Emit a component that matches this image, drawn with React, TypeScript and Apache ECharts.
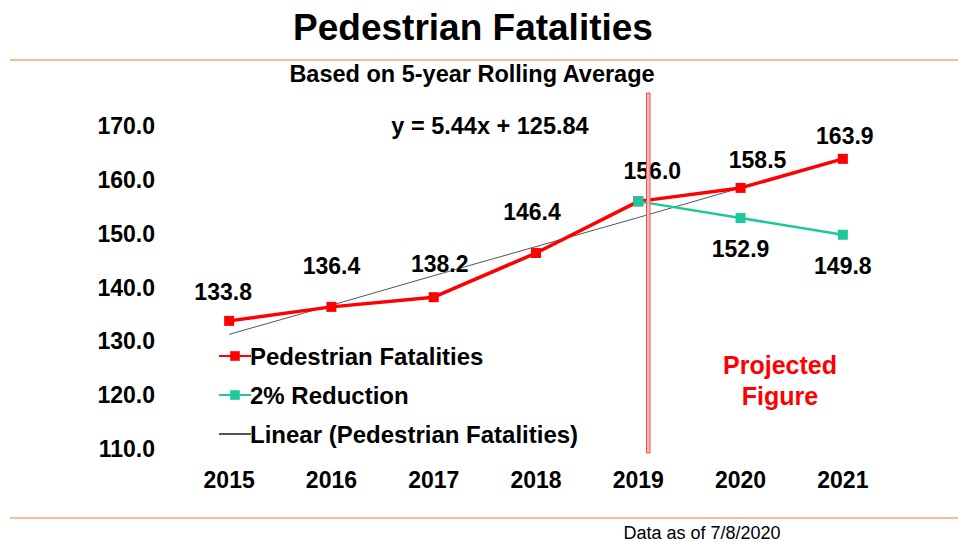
import React, { useEffect, useRef } from "react";
import * as echarts from "echarts";

const years = ["2015", "2016", "2017", "2018", "2019", "2020", "2021"];
const pedestrian = [133.8, 136.4, 138.2, 146.4, 156.0, 158.5, 163.9];
const reduction = [null, null, null, null, 156.0, 152.9, 149.8];
const linearTrend = [131.3, 136.7, 142.2, 147.6, 153.0, 158.5, 163.9];
const equationText = "y = 5.44x + 125.84";

const FONT = "'Liberation Sans', Arial, Helvetica, sans-serif";

export default function App() {
  const ref = useRef<HTMLDivElement>(null);
  useEffect(() => {
    if (!ref.current) return;
    const chart = echarts.init(ref.current, null, { renderer: "svg" });
    const redLabelOffsets = [[-6, -6], [0, -18], [6, -11], [-4, -19], [14, -8], [17, -5], [2, 0]];
    const greenLabelOffsets = [[0, 0], [0, 0], [0, 0], [0, 0], [0, 0], [0, 10], [0, 11]];
    const labelStyle = { fontFamily: FONT, fontWeight: "bold" as const, fontSize: 23, color: "#000" };
    chart.setOption({
      animation: false,
      backgroundColor: "#fff",
      grid: { left: 178, right: 64, top: 126, bottom: 93, containLabel: false },
      legend: {
        orient: "vertical",
        left: 213,
        top: 339,
        itemGap: 15,
        itemWidth: 32,
        itemHeight: 12,
        textStyle: { fontFamily: FONT, fontWeight: "bold", fontSize: 24, color: "#000", padding: [0, 0, 0, -6] },
        data: [
          "Pedestrian Fatalities",
          "2% Reduction",
          { name: "Linear (Pedestrian Fatalities)", itemStyle: { opacity: 0 } },
        ],
      },
      xAxis: {
        type: "category",
        data: years,
        boundaryGap: true,
        axisLine: { show: false },
        axisTick: { show: false },
        axisLabel: { margin: 19, fontFamily: FONT, fontWeight: "bold", fontSize: 23, color: "#000" },
      },
      yAxis: {
        type: "value",
        min: 110,
        max: 170,
        interval: 10,
        splitLine: { show: false },
        axisLine: { show: false },
        axisTick: { show: false },
        axisLabel: {
          margin: 23,
          fontFamily: FONT,
          fontWeight: "bold",
          fontSize: 23,
          color: "#000",
          formatter: (v: number) => v.toFixed(1),
        },
      },
      series: [
        {
          name: "Linear (Pedestrian Fatalities)",
          type: "line",
          data: linearTrend,
          symbol: "none",
          lineStyle: { color: "#555", width: 1 },
          itemStyle: { color: "#555" },
          z: 1,
        },
        {
          name: "Pedestrian Fatalities",
          type: "line",
          data: pedestrian.map((v, i) => ({
            value: v,
            label: { offset: redLabelOffsets[i] },
          })),
          symbol: "rect",
          symbolSize: 10,
          lineStyle: { color: "#ff0000", width: 3.5 },
          itemStyle: { color: "#ff0000" },
          label: { show: true, position: "top", distance: 6, formatter: (p: any) => p.value.toFixed(1), ...labelStyle },
          z: 3,
        },
        {
          name: "2% Reduction",
          type: "line",
          data: reduction.map((v, i) => ({
            value: v,
            label: { show: i > 4, offset: greenLabelOffsets[i] },
          })),
          symbol: "rect",
          symbolSize: 10,
          lineStyle: { color: "#1dc99c", width: 2.5 },
          itemStyle: { color: "#1dc99c" },
          label: { position: "bottom", distance: 4, formatter: (p: any) => (p.value == null ? "" : p.value.toFixed(1)), ...labelStyle },
          z: 4,
        },
      ],
      graphic: [
        {
          type: "text",
          x: 473,
          y: 27,
          style: { text: "Pedestrian Fatalities", fontFamily: FONT, fontWeight: "bold", fontSize: 37, fill: "#000", align: "center", verticalAlign: "middle" },
        },
        { type: "line", shape: { x1: 10, y1: 60, x2: 958, y2: 60 }, style: { stroke: "#f9bd96", lineWidth: 2 } },
        {
          type: "text",
          x: 472,
          y: 74,
          style: { text: "Based on 5-year Rolling Average", fontFamily: FONT, fontWeight: "bold", fontSize: 23.5, fill: "#000", align: "center", verticalAlign: "middle" },
        },
        {
          type: "text",
          x: 490,
          y: 126,
          style: { text: equationText, fontFamily: FONT, fontWeight: "bold", fontSize: 23.5, fill: "#000", align: "center", verticalAlign: "middle" },
        },
        { type: "rect", shape: { x: 646.5, y: 93, width: 3.5, height: 360 }, style: { fill: "#ffbcbc", stroke: "#ff4d4d", lineWidth: 1 }, z: 10 },
        {
          type: "text",
          x: 780,
          y: 365,
          style: { text: "Projected", fontFamily: FONT, fontWeight: "bold", fontSize: 25, fill: "#ff0000", align: "center", verticalAlign: "middle" },
        },
        {
          type: "text",
          x: 780,
          y: 396,
          style: { text: "Figure", fontFamily: FONT, fontWeight: "bold", fontSize: 25, fill: "#ff0000", align: "center", verticalAlign: "middle" },
        },
        { type: "line", shape: { x1: 10, y1: 518, x2: 958, y2: 518 }, style: { stroke: "#f9bd96", lineWidth: 2 } },
        {
          type: "text",
          x: 702,
          y: 533,
          style: { text: "Data as of 7/8/2020", fontFamily: FONT, fontSize: 18, fill: "#000", align: "center", verticalAlign: "middle" },
        },
      ],
    });
    return () => chart.dispose();
  }, []);
  return <div ref={ref} style={{ position: "absolute", left: 0, top: 0, width: 958, height: 542 }} />;
}
